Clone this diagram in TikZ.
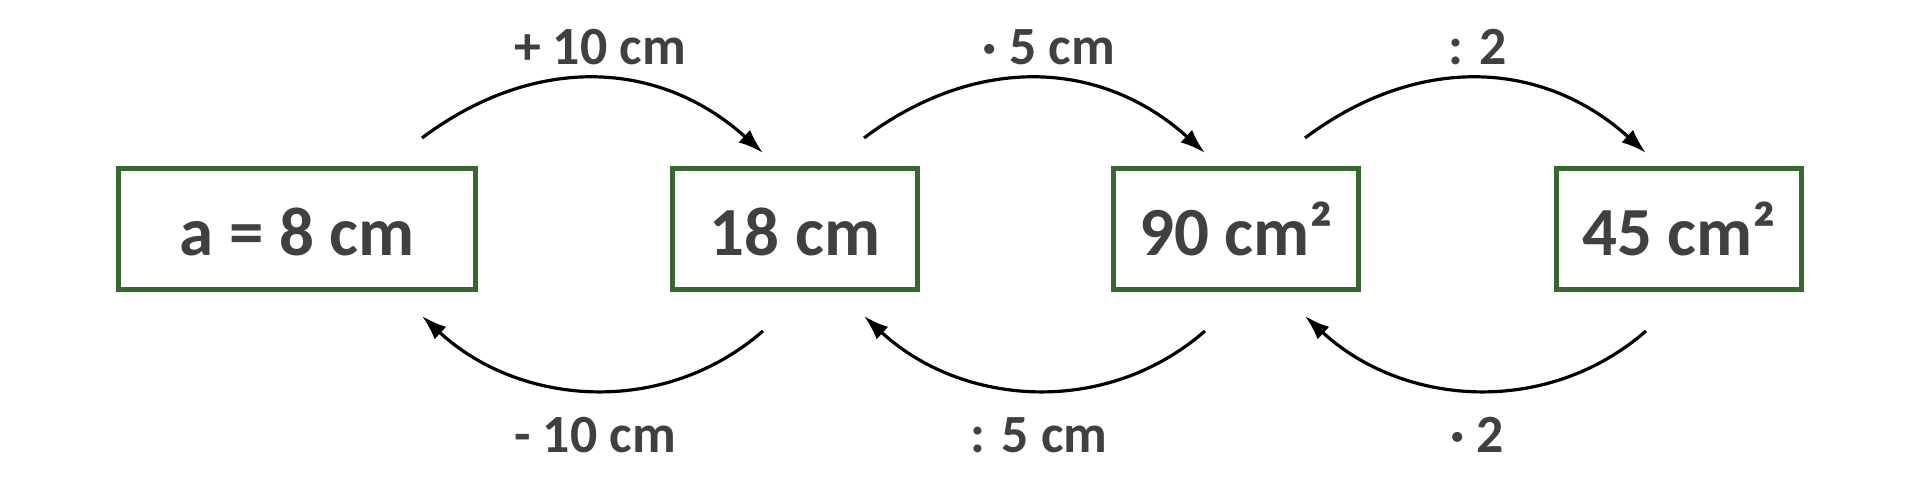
\documentclass[tikz,border=0pt]{standalone}
\usepackage{fontspec}
\setmainfont{Carlito}
\usetikzlibrary{arrows.meta}
\definecolor{boxgreen}{RGB}{53,104,45}
\definecolor{txtgray}{RGB}{64,64,64}
\begin{document}
\begin{tikzpicture}[x=0.01cm,y=-0.01cm,
  valbox/.style={draw=boxgreen,line width=0.55mm,minimum height=1.205cm,
    inner sep=0pt,text height=0.52cm,text depth=0pt,text=txtgray,
    font=\fontsize{19.6pt}{23pt}\selectfont\bfseries},
  oplabel/.style={anchor=base,inner sep=0pt,text=txtgray,
    font=\fontsize{15.3pt}{18pt}\selectfont\bfseries},
  oparrow/.style={line width=0.032cm,-{Latex[length=2.5mm,width=1.7mm]}}]
\useasboundingbox (0,0) rectangle (1920,477);
% boxes
\node[valbox,minimum width=3.565cm] (b1) at (297,229) {a = 8 cm};
\node[valbox,minimum width=2.445cm] (b2) at (795,229) {18 cm};
\node[valbox,minimum width=2.445cm] (b3) at (1236,229) {90 cm²};
\node[valbox,minimum width=2.445cm] (b4) at (1679,229) {45 cm²};
% arc end points
\coordinate (t1a) at (422,138); \coordinate (t1b) at (763,153);
\coordinate (t2a) at (864,138); \coordinate (t2b) at (1205,153);
\coordinate (t3a) at (1305,138); \coordinate (t3b) at (1646,153);
\coordinate (u1a) at (763,331); \coordinate (u1b) at (422,316);
\coordinate (u2a) at (1205,331); \coordinate (u2b) at (864,316);
\coordinate (u3a) at (1646,331); \coordinate (u3b) at (1305,316);
% arcs
\foreach \i in {1,2,3}{
  \draw[oparrow] (t\i a) .. controls +(112,-84) and +(-104,-94) .. (t\i b);
  \draw[oparrow] (u\i a) .. controls +(-100,87) and +(97,90) .. (u\i b);
}
% labels
\node[oplabel] (l1) at (600,65) {+ 10 cm};
\node[oplabel] (l2) at (1049,65) {· 5 cm};
\node[oplabel] (l3) at (1478,65) {: 2};
\node[oplabel] (m1) at (595,453) {- 10 cm};
\node[oplabel] (m2) at (1039,453) {: 5 cm};
\node[oplabel] (m3) at (1477,453) {· 2};
\end{tikzpicture}
\end{document}
